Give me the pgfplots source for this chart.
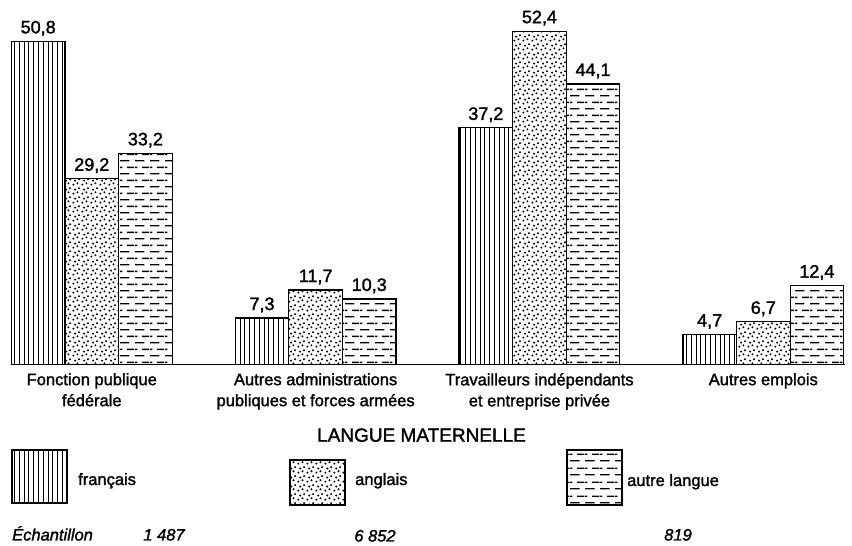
\documentclass[border=0pt]{standalone}
\usepackage{fontspec}
\setmainfont{Liberation Sans}[FakeBold=1.6]
\usepackage{pgfplots}
\pgfplotsset{compat=1.18}
\usetikzlibrary{patterns,patterns.meta}

\pgfdeclarepatternformonly{mydots}{\pgfpointorigin}{\pgfpoint{9pt}{9pt}}{\pgfpoint{9pt}{9pt}}{
  \pgfpathcircle{\pgfpoint{1.5pt}{1.5pt}}{1.2pt}
  \pgfpathcircle{\pgfpoint{6pt}{3pt}}{1.2pt}
  \pgfpathcircle{\pgfpoint{3.5pt}{6pt}}{1.2pt}
  \pgfpathcircle{\pgfpoint{7.8pt}{7.5pt}}{1.2pt}
  \pgfusepath{fill}}
\pgfdeclarepatternformonly{hdash}{\pgfpointorigin}{\pgfpoint{15pt}{13.4pt}}{\pgfpoint{15pt}{13.4pt}}{
  \pgfsetlinewidth{1.4pt}
  \pgfpathmoveto{\pgfpoint{0pt}{3.35pt}}\pgfpathlineto{\pgfpoint{10pt}{3.35pt}}
  \pgfpathmoveto{\pgfpoint{7.5pt}{10.05pt}}\pgfpathlineto{\pgfpoint{15pt}{10.05pt}}
  \pgfpathmoveto{\pgfpoint{0pt}{10.05pt}}\pgfpathlineto{\pgfpoint{2.5pt}{10.05pt}}
  \pgfusepath{stroke}}

\tikzset{
  frpat/.style={pattern={Lines[angle=90,distance=4.8pt,line width=1pt]}},
  enpat/.style={pattern=mydots},
  aupat/.style={pattern=hdash},
}

\begin{document}
\begin{tikzpicture}
\useasboundingbox (0,0) rectangle (852pt,546pt);
\begin{axis}[
  at={(11pt,181.5pt)}, anchor=south west,
  scale only axis, width=834pt, height=356.2pt,
  xmin=-0.361, xmax=3.365, ymin=0, ymax=56,
  axis x line*=bottom, axis y line=none,
  axis line style={line width=1.2pt},
  ybar=0pt, bar width=53.6pt,
  xtick={0,1,2,3},
  xticklabels={{Fonction publique\\fédérale},{Autres administrations\\publiques et forces armées},{Travailleurs indépendants\\et entreprise privée},{Autres emplois}},
  major tick length=0pt,
  xticklabel style={align=center, anchor=north, inner sep=0pt, yshift=-8.5pt, font=\fontsize{16.5pt}{21pt}\selectfont},
  ytick=\empty,
  clip=false,
  /pgf/number format/.cd, use comma, fixed, fixed zerofill, precision=1, assume math mode=true,
  /pgfplots/.cd,
  nodes near coords,
  nodes near coords style={font=\fontsize{18pt}{20pt}\selectfont, anchor=base, inner sep=0pt, yshift=8pt},
]
\addplot[draw=black, line width=1.2pt, frpat] coordinates {(0,50.8) (1,7.3) (2,37.2) (3,4.7)};
\addplot[draw=black, line width=1.2pt, enpat] coordinates {(0,29.2) (1,11.7) (2,52.4) (3,6.7)};
\addplot[draw=black, line width=1.2pt, aupat] coordinates {(0,33.2) (1,10.3) (2,44.1) (3,12.4)};
\end{axis}

\node[anchor=base, inner sep=0pt, font=\fontsize{19pt}{22pt}\selectfont] at (421.5pt,104.3pt) {LANGUE MATERNELLE};

\draw[line width=1.2pt, frpat] (12pt,43pt) rectangle (67pt,96pt);
\draw[line width=1.2pt, enpat] (290pt,41pt) rectangle (345pt,86pt);
\draw[line width=1.2pt, aupat] (567pt,41pt) rectangle (622pt,96pt);

\begin{scope}[every node/.style={anchor=base west, inner sep=0pt, font=\fontsize{16.5pt}{20pt}\selectfont}]
\node at (78pt,61pt) {français};
\node at (355pt,61pt) {anglais};
\node at (627pt,60pt) {autre langue};
\end{scope}

\begin{scope}[every node/.style={inner sep=0pt, font=\fontsize{16.5pt}{20pt}\selectfont\itshape}]
\node[anchor=base west] at (12pt,5.5pt) {Échantillon};
\node[anchor=base] at (164pt,5.5pt) {1 487};
\node[anchor=base] at (375pt,4.5pt) {6 852};
\node[anchor=base] at (678pt,5.5pt) {819};
\end{scope}
\end{tikzpicture}
\end{document}
